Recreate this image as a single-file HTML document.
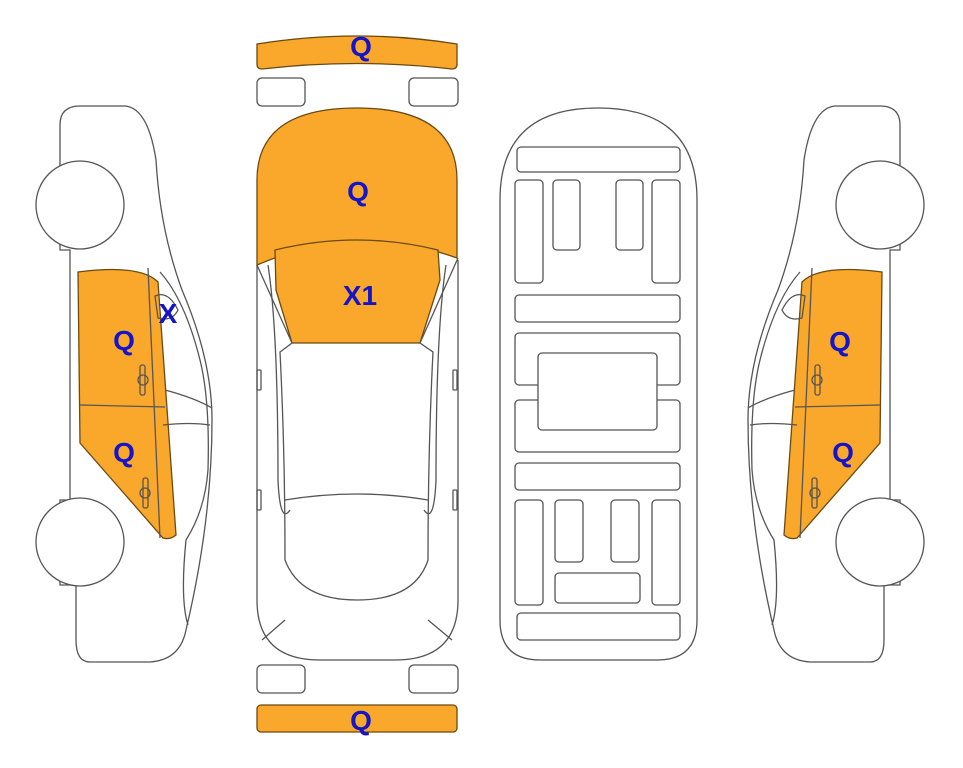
<!DOCTYPE html>
<html><head><meta charset="utf-8"><style>
html,body{margin:0;padding:0;background:#fff;width:963px;height:768px;overflow:hidden}
text{font-family:"Liberation Sans",Arial,sans-serif;font-weight:bold;font-size:28px;fill:#1414c8;text-anchor:middle}
</style></head><body>
<svg width="963" height="768" viewBox="0 0 963 768" xmlns="http://www.w3.org/2000/svg">
<g fill="none" stroke="#555" stroke-width="1.3">
<!-- left side car -->
<g id="side">
<path d="M60,125 Q60,106 80,106 L125,106 Q148,108 156,160 Q160,230 182,290 Q212,360 212,420 Q212,520 186,630 Q180,660 150,662 L90,662 Q76,662 76,640 L76,585 L60,585 L60,500 L70,500 L70,250 L60,250 Z" fill="#fff"/>
<path d="M78,272 Q140,264 158,282 L176,535 Q170,540 163,538 L80,443 Z" fill="#F9A82C" stroke="#6a4a10"/>
<line x1="80" y1="405" x2="165" y2="407"/>
<line x1="148" y1="268" x2="160" y2="538"/>
<path d="M160,272 Q185,300 200,360 Q210,400 208,470 Q205,510 186,540 Q180,600 188,625"/>
<path d="M165,390 Q195,398 212,408 M163,425 Q190,422 210,425"/>
<path d="M155,296 Q168,290 178,310 Q172,322 158,318 Z"/>
<rect x="140" y="365" width="5" height="30" rx="2"/>
<circle cx="143" cy="380" r="5"/>
<rect x="143" y="478" width="5" height="30" rx="2"/>
<circle cx="145" cy="493" r="5"/>
<circle cx="80" cy="205" r="44" fill="#fff"/>
<circle cx="80" cy="542" r="44" fill="#fff"/>
</g>
<!-- right side car mirrored -->
<g transform="translate(960,0) scale(-1,1)">
<path d="M60,125 Q60,106 80,106 L125,106 Q148,108 156,160 Q160,230 182,290 Q212,360 212,420 Q212,520 186,630 Q180,660 150,662 L90,662 Q76,662 76,640 L76,585 L60,585 L60,500 L70,500 L70,250 L60,250 Z" fill="#fff"/>
<path d="M78,272 Q140,264 158,282 L176,535 Q170,540 163,538 L80,443 Z" fill="#F9A82C" stroke="#6a4a10"/>
<line x1="80" y1="405" x2="165" y2="407"/>
<line x1="148" y1="268" x2="160" y2="538"/>
<path d="M160,272 Q185,300 200,360 Q210,400 208,470 Q205,510 186,540 Q180,600 188,625"/>
<path d="M165,390 Q195,398 212,408 M163,425 Q190,422 210,425"/>
<path d="M155,296 Q168,290 178,310 Q172,322 158,318 Z"/>
<rect x="140" y="365" width="5" height="30" rx="2"/>
<circle cx="143" cy="380" r="5"/>
<rect x="143" y="478" width="5" height="30" rx="2"/>
<circle cx="145" cy="493" r="5"/>
<circle cx="80" cy="205" r="44" fill="#fff"/>
<circle cx="80" cy="542" r="44" fill="#fff"/>
</g>
<!-- top car -->
<path d="M257,44 Q357,28 457,44 L457,64 Q457,69 452,69 Q357,58 262,69 Q257,69 257,64 Z" fill="#F9A82C" stroke="#6a4a10"/>
<rect x="257" y="78" width="48" height="28" rx="5"/>
<rect x="409" y="78" width="49" height="28" rx="5"/>
<rect x="257" y="665" width="48" height="28" rx="5"/>
<rect x="409" y="665" width="49" height="28" rx="5"/>
<rect x="257" y="705" width="200" height="27" rx="4" fill="#F9A82C" stroke="#6a4a10"/>
<path d="M257,265 L257,600 Q257,660 320,660 L395,660 Q458,660 458,600 L458,260"/>
<path d="M257,265 L257,180 Q257,108 357,108 Q457,108 457,180 L457,258 Q357,222 257,265 Z" fill="#F9A82C" stroke="#6a4a10"/>
<path d="M275,250 Q357,230 438,250 L440,280 L420,343 L292,343 L276,290 Z" fill="#F9A82C" stroke="#6a4a10"/>
<path d="M257,265 L292,343 L280,352 Q285,450 285,560 Q300,600 357,600 Q415,600 428,560 Q428,450 433,352 L420,343 L458,258"/>
<path d="M268,265 Q278,330 278,480 Q280,525 290,510 M446,265 Q436,330 436,480 Q434,525 424,510"/>
<path d="M285,500 Q357,488 428,500"/>
<path d="M262,640 L285,620 M452,640 L428,620"/>
<rect x="257" y="370" width="4" height="20" rx="1"/>
<rect x="453" y="370" width="4" height="20" rx="1"/>
<rect x="257" y="490" width="4" height="20" rx="1"/>
<rect x="453" y="490" width="4" height="20" rx="1"/>
<!-- underside -->
<path d="M500,200 Q500,108 598,108 Q697,108 697,200 L697,620 Q697,660 657,660 L540,660 Q500,660 500,620 Z"/>
<rect x="517" y="147" width="163" height="25" rx="4"/>
<rect x="515" y="180" width="28" height="103" rx="4"/>
<rect x="553" y="180" width="27" height="70" rx="4"/>
<rect x="616" y="180" width="27" height="70" rx="4"/>
<rect x="652" y="180" width="28" height="103" rx="4"/>
<rect x="515" y="295" width="165" height="27" rx="4"/>
<rect x="515" y="333" width="165" height="52" rx="4"/>
<rect x="515" y="400" width="165" height="52" rx="4"/>
<rect x="538" y="353" width="119" height="77" rx="4" fill="#fff"/>
<rect x="515" y="463" width="165" height="27" rx="4"/>
<rect x="515" y="500" width="28" height="105" rx="4"/>
<rect x="555" y="500" width="28" height="62" rx="4"/>
<rect x="611" y="500" width="28" height="62" rx="4"/>
<rect x="652" y="500" width="28" height="105" rx="4"/>
<rect x="555" y="573" width="85" height="30" rx="4"/>
<rect x="517" y="613" width="163" height="27" rx="4"/>
</g>
<text x="361" y="56">Q</text>
<text x="358" y="201">Q</text>
<text x="360" y="305">X1</text>
<text x="124" y="350">Q</text>
<text x="124" y="462">Q</text>
<text x="168" y="323">X</text>
<text x="840" y="351">Q</text>
<text x="843" y="462">Q</text>
<text x="361" y="730">Q</text>
</svg>
</body></html>
